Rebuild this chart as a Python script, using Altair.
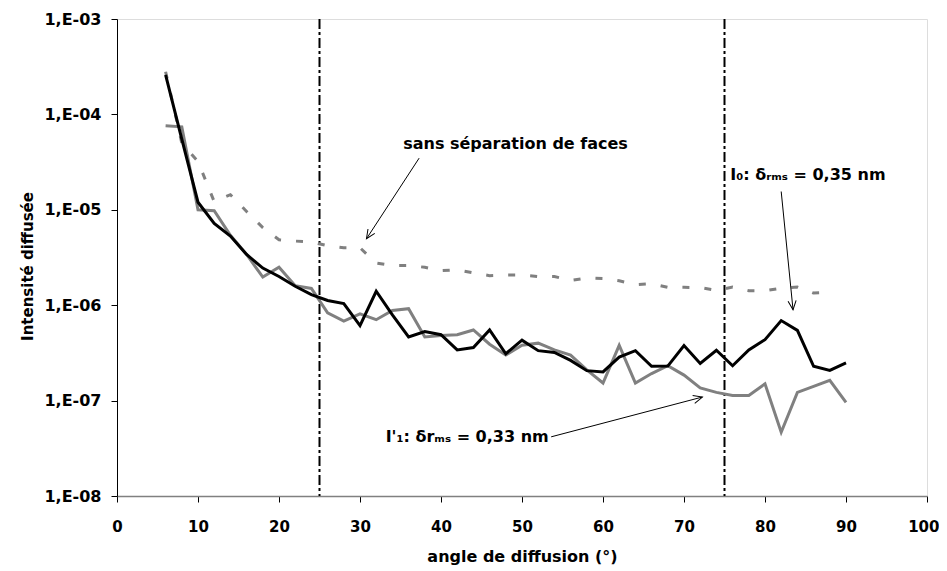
import altair as alt
import pandas as pd

# ---- data ----
angles = list(range(6, 91, 2))
i0_vals = [2.6e-4, 5.5e-5, 1.2e-5, 7.2e-6, 5.3e-6, 3.4e-6, 2.45e-6, 2.0e-6, 1.58e-6, 1.29e-6,
           1.12e-6, 1.04e-6, 6.1e-7, 1.40e-6, 7.9e-7, 4.65e-7, 5.3e-7, 4.9e-7, 3.4e-7, 3.6e-7,
           5.5e-7, 3.1e-7, 4.3e-7, 3.34e-7, 3.2e-7, 2.64e-7, 2.06e-7, 2.0e-7, 2.86e-7, 3.34e-7,
           2.29e-7, 2.3e-7, 3.77e-7, 2.45e-7, 3.37e-7, 2.32e-7, 3.4e-7, 4.35e-7, 6.9e-7, 5.45e-7,
           2.29e-7, 2.07e-7, 2.48e-7]
i1_vals = [7.6e-5, 7.4e-5, 1.0e-5, 9.8e-6, 5.4e-6, 3.4e-6, 1.97e-6, 2.5e-6, 1.6e-6, 1.5e-6,
           8.3e-7, 6.8e-7, 8.1e-7, 7.05e-7, 8.8e-7, 9.2e-7, 4.65e-7, 4.8e-7, 4.9e-7, 5.5e-7,
           3.9e-7, 3.0e-7, 3.8e-7, 4.0e-7, 3.4e-7, 3.0e-7, 2.1e-7, 1.53e-7, 3.8e-7, 1.53e-7,
           1.92e-7, 2.32e-7, 1.85e-7, 1.36e-7, 1.22e-7, 1.13e-7, 1.13e-7, 1.5e-7, 4.66e-8, 1.22e-7,
           1.41e-7, 1.63e-7, 9.6e-8]
angles_sans = list(range(6, 89, 2))
sans_vals = [2.8e-4, 5.0e-5, 3.2e-5, 1.22e-5, 1.44e-5, 9.6e-6, 6.5e-6, 4.85e-6, 4.7e-6, 4.6e-6,
             4.2e-6, 4.0e-6, 4.0e-6, 2.77e-6, 2.6e-6, 2.6e-6, 2.5e-6, 2.3e-6, 2.35e-6, 2.18e-6,
             2.04e-6, 2.07e-6, 2.07e-6, 2.0e-6, 2.0e-6, 1.82e-6, 1.93e-6, 1.9e-6, 1.8e-6, 1.64e-6,
             1.68e-6, 1.54e-6, 1.54e-6, 1.53e-6, 1.43e-6, 1.55e-6, 1.42e-6, 1.42e-6, 1.51e-6, 1.55e-6,
             1.34e-6, 1.36e-6]

vlines = [25, 75]

label_texts_c = ["sans séparation de faces", "I₀: δᵣₘₛ = 0,35 nm"]
label_x_c = [49.2, 85.3]
label_y_c = [4.85e-5, 2.32e-5]
label_texts_r = ["I'₁: δrₘₛ = 0,33 nm"]
label_x_r = [53.3]
label_y_r = [4.15e-8]

arr_x1 = [37.3, 82.0, 53.6]
arr_y1 = [3.48e-5, 1.555e-5, 4.17e-8]
arr_x2 = [30.8, 83.46, 72.27]
arr_y2 = [4.97e-6, 8.97e-7, 1.09e-7]
arr_ang = [123, 84, 345]

x_ticks = list(range(0, 101, 10))
y_ticks = [1e-3, 1e-4, 1e-5, 1e-6, 1e-7, 1e-8]

FONT = "DejaVu Sans"

xscale = alt.Scale(domain=[0, 100], nice=False, zero=False)
yscale = alt.Scale(type="log", domain=[1e-8, 1e-3], nice=False)

xaxis = alt.Axis(values=x_ticks, title="angle de diffusion (°)", grid=False,
                 labelFont=FONT, labelFontWeight="bold", labelFontSize=15, labelColor="black",
                 labelPadding=17, labelFlush=False, tickSize=6, tickColor="black",
                 labelAlign={"condition": {"test": "datum.value == 100", "value": "right"},
                             "value": "center"},
                 labelOffset={"condition": {"test": "datum.value == 100", "value": 12},
                              "value": 0},
                 domainColor="#808080", domainWidth=1.5,
                 titleFont=FONT, titleFontWeight="bold", titleFontSize=16, titleColor="black",
                 titleX=405, titleY=65, titleAlign="center", titleBaseline="alphabetic")
yaxis = alt.Axis(values=y_ticks, title="Intensité diffusée", grid=False,
                 labelExpr="'1,E-0' + round(-log(datum.value) / LN10)",
                 labelFont=FONT, labelFontWeight="bold", labelFontSize=16, labelColor="black",
                 labelPadding=10, labelFlush=False, tickSize=6, tickColor="black",
                 domainColor="black",
                 titleFont=FONT, titleFontWeight="bold", titleFontSize=15, titleColor="black",
                 titleX=-85, titleY=247, titleAngle=270, titleAlign="center",
                 titleBaseline="alphabetic")


def X(f):
    return alt.X(f"{f}:Q", scale=xscale, axis=xaxis)


def Y(f):
    return alt.Y(f"{f}:Q", scale=yscale, axis=yaxis)


df_i0 = pd.DataFrame({"x": angles, "y": i0_vals})
df_i1 = pd.DataFrame({"x": angles, "y": i1_vals})
df_sans = pd.DataFrame({"x": angles_sans, "y": sans_vals})
df_v = pd.DataFrame({"x": vlines})
df_lc = pd.DataFrame({"x": label_x_c, "y": label_y_c, "t": label_texts_c})
df_lr = pd.DataFrame({"x": label_x_r, "y": label_y_r, "t": label_texts_r})
df_arr = pd.DataFrame({"x": arr_x1, "y": arr_y1, "x2": arr_x2, "y2": arr_y2, "ang": arr_ang})

sans_line = alt.Chart(df_sans).mark_line(color="#808080", strokeWidth=3, strokeDash=[7, 15]).encode(
    x=X("x"), y=Y("y"))
i1_line = alt.Chart(df_i1).mark_line(color="#808080", strokeWidth=3).encode(x=X("x"), y=Y("y"))
i0_line = alt.Chart(df_i0).mark_line(color="black", strokeWidth=3).encode(x=X("x"), y=Y("y"))

vrules = alt.Chart(df_v).mark_rule(color="black", strokeWidth=2, strokeDash=[10, 3, 3, 3]).encode(
    x=X("x"))

arrows = alt.Chart(df_arr).mark_rule(color="black", strokeWidth=1).encode(
    x=X("x"), y=Y("y"), x2="x2:Q", y2="y2:Q")
heads = alt.Chart(df_arr).mark_point(shape="M -1 -0.45 L 0 0 L -1 0.45", filled=False,
                                     stroke="black", strokeWidth=1, size=324, opacity=1).encode(
    x=X("x2"), y=Y("y2"), angle=alt.Angle("ang:Q", scale=None))

txt_c = alt.Chart(df_lc).mark_text(font=FONT, fontWeight="bold", fontSize=16, color="black",
                                   align="center", baseline="middle").encode(
    x=X("x"), y=Y("y"), text="t:N")
txt_r = alt.Chart(df_lr).mark_text(font=FONT, fontWeight="bold", fontSize=16, color="black",
                                   align="right", baseline="middle").encode(
    x=X("x"), y=Y("y"), text="t:N")

chart = alt.layer(vrules, sans_line, i1_line, i0_line, arrows, heads, txt_c, txt_r).properties(
    width=810, height=477,
    autosize=alt.AutoSizeParams(type="none"),
    padding={"left": 109, "top": 11, "right": 12, "bottom": 75},
).configure_view(stroke=None).configure(background="white")

chart.save("out.html", embed_options={"renderer": "svg", "actions": False})
